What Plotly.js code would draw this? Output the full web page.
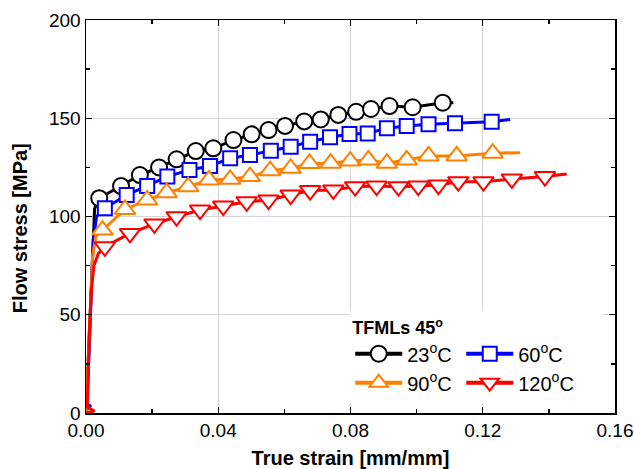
<!DOCTYPE html>
<html>
<head>
<meta charset="utf-8">
<script src="https://cdn.plot.ly/plotly-3.0.1.min.js"></script>
<style>html,body{margin:0;padding:0;background:#fff;}#chart{width:634px;height:469px;}</style>
</head>
<body>
<div id="chart"></div>
<script>
// ---- Data ----
const seriesNames = ['23<sup>o</sup>C', '60<sup>o</sup>C', '90<sup>o</sup>C', '120<sup>o</sup>C'];

// 23 °C
const lineStrain23 = [0, 0.0010, 0.0018, 0.0026, 0.0040, 0.0106, 0.0163, 0.0221, 0.0274, 0.0332, 0.0385, 0.0446, 0.0501, 0.0552, 0.0602, 0.0660, 0.0710, 0.0763, 0.0817, 0.0862, 0.0918, 0.0988, 0.1079, 0.1111];
const lineStress23 = [0, 40, 80, 104, 109.3, 115.5, 121.1, 125.0, 129.1, 133.3, 134.7, 138.9, 141.8, 144.0, 146.1, 148.4, 149.4, 151.7, 153.3, 154.7, 156.2, 155.6, 157.9, 157.9];
const markStrain23 = [0.0040, 0.0106, 0.0163, 0.0221, 0.0274, 0.0332, 0.0385, 0.0446, 0.0501, 0.0552, 0.0602, 0.0660, 0.0710, 0.0763, 0.0817, 0.0862, 0.0918, 0.0988, 0.1079];
const markStress23 = [109.3, 115.5, 121.1, 125.0, 129.1, 133.3, 134.7, 138.9, 141.8, 144.0, 146.1, 148.4, 149.4, 151.7, 153.3, 154.7, 156.2, 155.6, 157.9];

// 60 °C
const lineStrain60 = [0, 0.0015, 0.0003, 0.0012, 0.0022, 0.0032, 0.0057, 0.0123, 0.0185, 0.0246, 0.0313, 0.0375, 0.0436, 0.0496, 0.0559, 0.0619, 0.0678, 0.0738, 0.0797, 0.0852, 0.0910, 0.0970, 0.1036, 0.1116, 0.1227, 0.1283];
const lineStress60 = [3, 4, 2, 45, 88, 100, 104.2, 110.9, 115.5, 120.3, 123.7, 125.7, 129.6, 131.3, 133.5, 135.5, 138.1, 140.3, 142.0, 142.3, 144.9, 146.1, 146.9, 147.4, 148.2, 149.4];
const markStrain60 = [0.0057, 0.0123, 0.0185, 0.0246, 0.0313, 0.0375, 0.0436, 0.0496, 0.0559, 0.0619, 0.0678, 0.0738, 0.0797, 0.0852, 0.0910, 0.0970, 0.1036, 0.1116, 0.1227];
const markStress60 = [104.2, 110.9, 115.5, 120.3, 123.7, 125.7, 129.6, 131.3, 133.5, 135.5, 138.1, 140.3, 142.0, 142.3, 144.9, 146.1, 146.9, 147.4, 148.2];

// 90 °C
const lineStrain90 = [0, 0.0012, 0.0020, 0.0030, 0.0050, 0.0118, 0.0185, 0.0244, 0.0309, 0.0372, 0.0436, 0.0496, 0.0557, 0.0619, 0.0676, 0.0740, 0.0799, 0.0854, 0.0910, 0.0970, 0.1036, 0.1121, 0.1230, 0.1313];
const lineStress90 = [0, 45, 80, 90, 93.1, 103.6, 108.4, 112.1, 115.2, 118.6, 118.9, 120.3, 123.3, 124.5, 127.0, 127.1, 128.2, 128.8, 127.1, 128.8, 130.8, 130.8, 132.2, 132.5];
const markStrain90 = [0.0050, 0.0118, 0.0185, 0.0244, 0.0309, 0.0372, 0.0436, 0.0496, 0.0557, 0.0619, 0.0676, 0.0740, 0.0799, 0.0854, 0.0910, 0.0970, 0.1036, 0.1121, 0.1230];
const markStress90 = [93.1, 103.6, 108.4, 112.1, 115.2, 118.6, 118.9, 120.3, 123.3, 124.5, 127.0, 127.1, 128.2, 128.8, 127.1, 128.8, 130.8, 130.8, 132.2];

// 120 °C
const lineStrain120 = [0, 0.0025, 0.0004, 0.0010, 0.0016, 0.0024, 0.0037, 0.0057, 0.0133, 0.0207, 0.0274, 0.0345, 0.0415, 0.0486, 0.0552, 0.0619, 0.0678, 0.0748, 0.0814, 0.0879, 0.0945, 0.1005, 0.1066, 0.1126, 0.1202, 0.1288, 0.1388, 0.1454];
const lineStress120 = [0, 1, 3, 40, 62, 75, 81, 84.6, 91.4, 96.2, 99.9, 103.3, 105.3, 107.5, 108.4, 110.9, 113.2, 113.5, 115.2, 115.5, 115.2, 115.5, 116.0, 117.7, 117.7, 119.1, 120.3, 121.6];
const markStrain120 = [0.0057, 0.0133, 0.0207, 0.0274, 0.0345, 0.0415, 0.0486, 0.0552, 0.0619, 0.0678, 0.0748, 0.0814, 0.0879, 0.0945, 0.1005, 0.1066, 0.1126, 0.1202, 0.1288, 0.1388];
const markStress120 = [84.6, 91.4, 96.2, 99.9, 103.3, 105.3, 107.5, 108.4, 110.9, 113.2, 113.5, 115.2, 115.5, 115.2, 115.5, 116.0, 117.7, 117.7, 119.1, 120.3];

const xTickVals = [0, 0.04, 0.08, 0.12, 0.16];
const yTickVals = [0, 50, 100, 150, 200];
const xTitle = 'True strain [mm/mm]';
const yTitle = 'Flow stress [MPa]';
const legendTitle = '<b>TFMLs 45<sup>o</sup></b>';

// ---- Styles ----
const FONT = 'Arial, "Liberation Sans", Helvetica, sans-serif';
const colors = ['#000000', '#0000ff', '#ff8000', '#ff0000'];
const symbols = ['circle', 'square', 'triangle-up', 'triangle-down'];
const msizes = [16, 14, 18, 18];
const groups = ['g1', 'g2', 'g1', 'g2'];
const lines = [[lineStrain23, lineStress23], [lineStrain60, lineStress60], [lineStrain90, lineStress90], [lineStrain120, lineStress120]];
const marks = [[markStrain23, markStress23], [markStrain60, markStress60], [markStrain90, markStress90], [markStrain120, markStress120]];

const traces = [];
for (let i = 0; i < 4; i++) {
  traces.push({
    x: lines[i][0], y: lines[i][1], type: 'scatter', mode: 'lines',
    line: {color: colors[i], width: 3}, showlegend: false, hoverinfo: 'skip'
  });
  traces.push({
    x: marks[i][0], y: marks[i][1], type: 'scatter', mode: 'markers',
    marker: {symbol: symbols[i], size: msizes[i], color: '#ffffff', line: {color: colors[i], width: 2}},
    showlegend: false, hoverinfo: 'skip'
  });
}
for (let i = 0; i < 4; i++) {
  traces.push({
    x: [null], y: [null], type: 'scatter', mode: 'lines+markers', name: seriesNames[i],
    legendgroup: groups[i], legendwidth: (i % 2 === 1) ? 80 : 49,
    line: {color: colors[i], width: 4},
    marker: {symbol: symbols[i], size: msizes[i], color: '#ffffff', line: {color: colors[i], width: 2}}
  });
}

const axisCommon = {
  ticks: 'inside', ticklen: 6, tickwidth: 1.3, tickcolor: '#000',
  showline: true, linecolor: '#000', linewidth: 1.5, mirror: 'ticks',
  showgrid: true, gridcolor: '#d4d4d4', gridwidth: 1, zeroline: false,
  tickfont: {family: FONT, size: 19, color: '#000'}
};

const layout = {
  width: 634, height: 469,
  margin: {l: 86, r: 19, t: 20, b: 56, autoexpand: false},
  paper_bgcolor: '#ffffff', plot_bgcolor: '#ffffff',
  font: {family: FONT, color: '#000'},
  xaxis: Object.assign({}, axisCommon, {
    range: [0, 0.16], tickvals: xTickVals, tickformat: '.2f',
    minor: {dtick: 0.02, tick0: 0, ticks: 'inside', ticklen: 4, tickcolor: '#000', showgrid: false},
    title: {text: xTitle, font: {family: FONT, size: 20, weight: 'bold', color: '#000'}, standoff: 10}
  }),
  yaxis: Object.assign({}, axisCommon, {
    range: [0, 200], tickvals: yTickVals,
    minor: {dtick: 25, tick0: 0, ticks: 'inside', ticklen: 4, tickcolor: '#000', showgrid: false}
  }),
  annotations: [{
    text: yTitle, textangle: -90, xref: 'paper', yref: 'paper',
    x: -0.1248, y: 0.47, xanchor: 'center', yanchor: 'middle', showarrow: false,
    font: {family: FONT, size: 20, weight: 'bold', color: '#000'}
  }],
  legend: {
    orientation: 'h', traceorder: 'grouped',
    x: 0.4995, y: 0.26, xanchor: 'left', yanchor: 'top',
    bgcolor: '#ffffff', borderwidth: 0,
    itemwidth: 47, entrywidth: 49, entrywidthmode: 'pixels',
    font: {family: FONT, size: 20, color: '#000'},
    title: {text: legendTitle, side: 'top', font: {family: FONT, size: 18, color: '#000'}}
  },
  showlegend: true
};

Plotly.newPlot('chart', traces, layout, {displayModeBar: false, staticPlot: true});
</script>
</body>
</html>
